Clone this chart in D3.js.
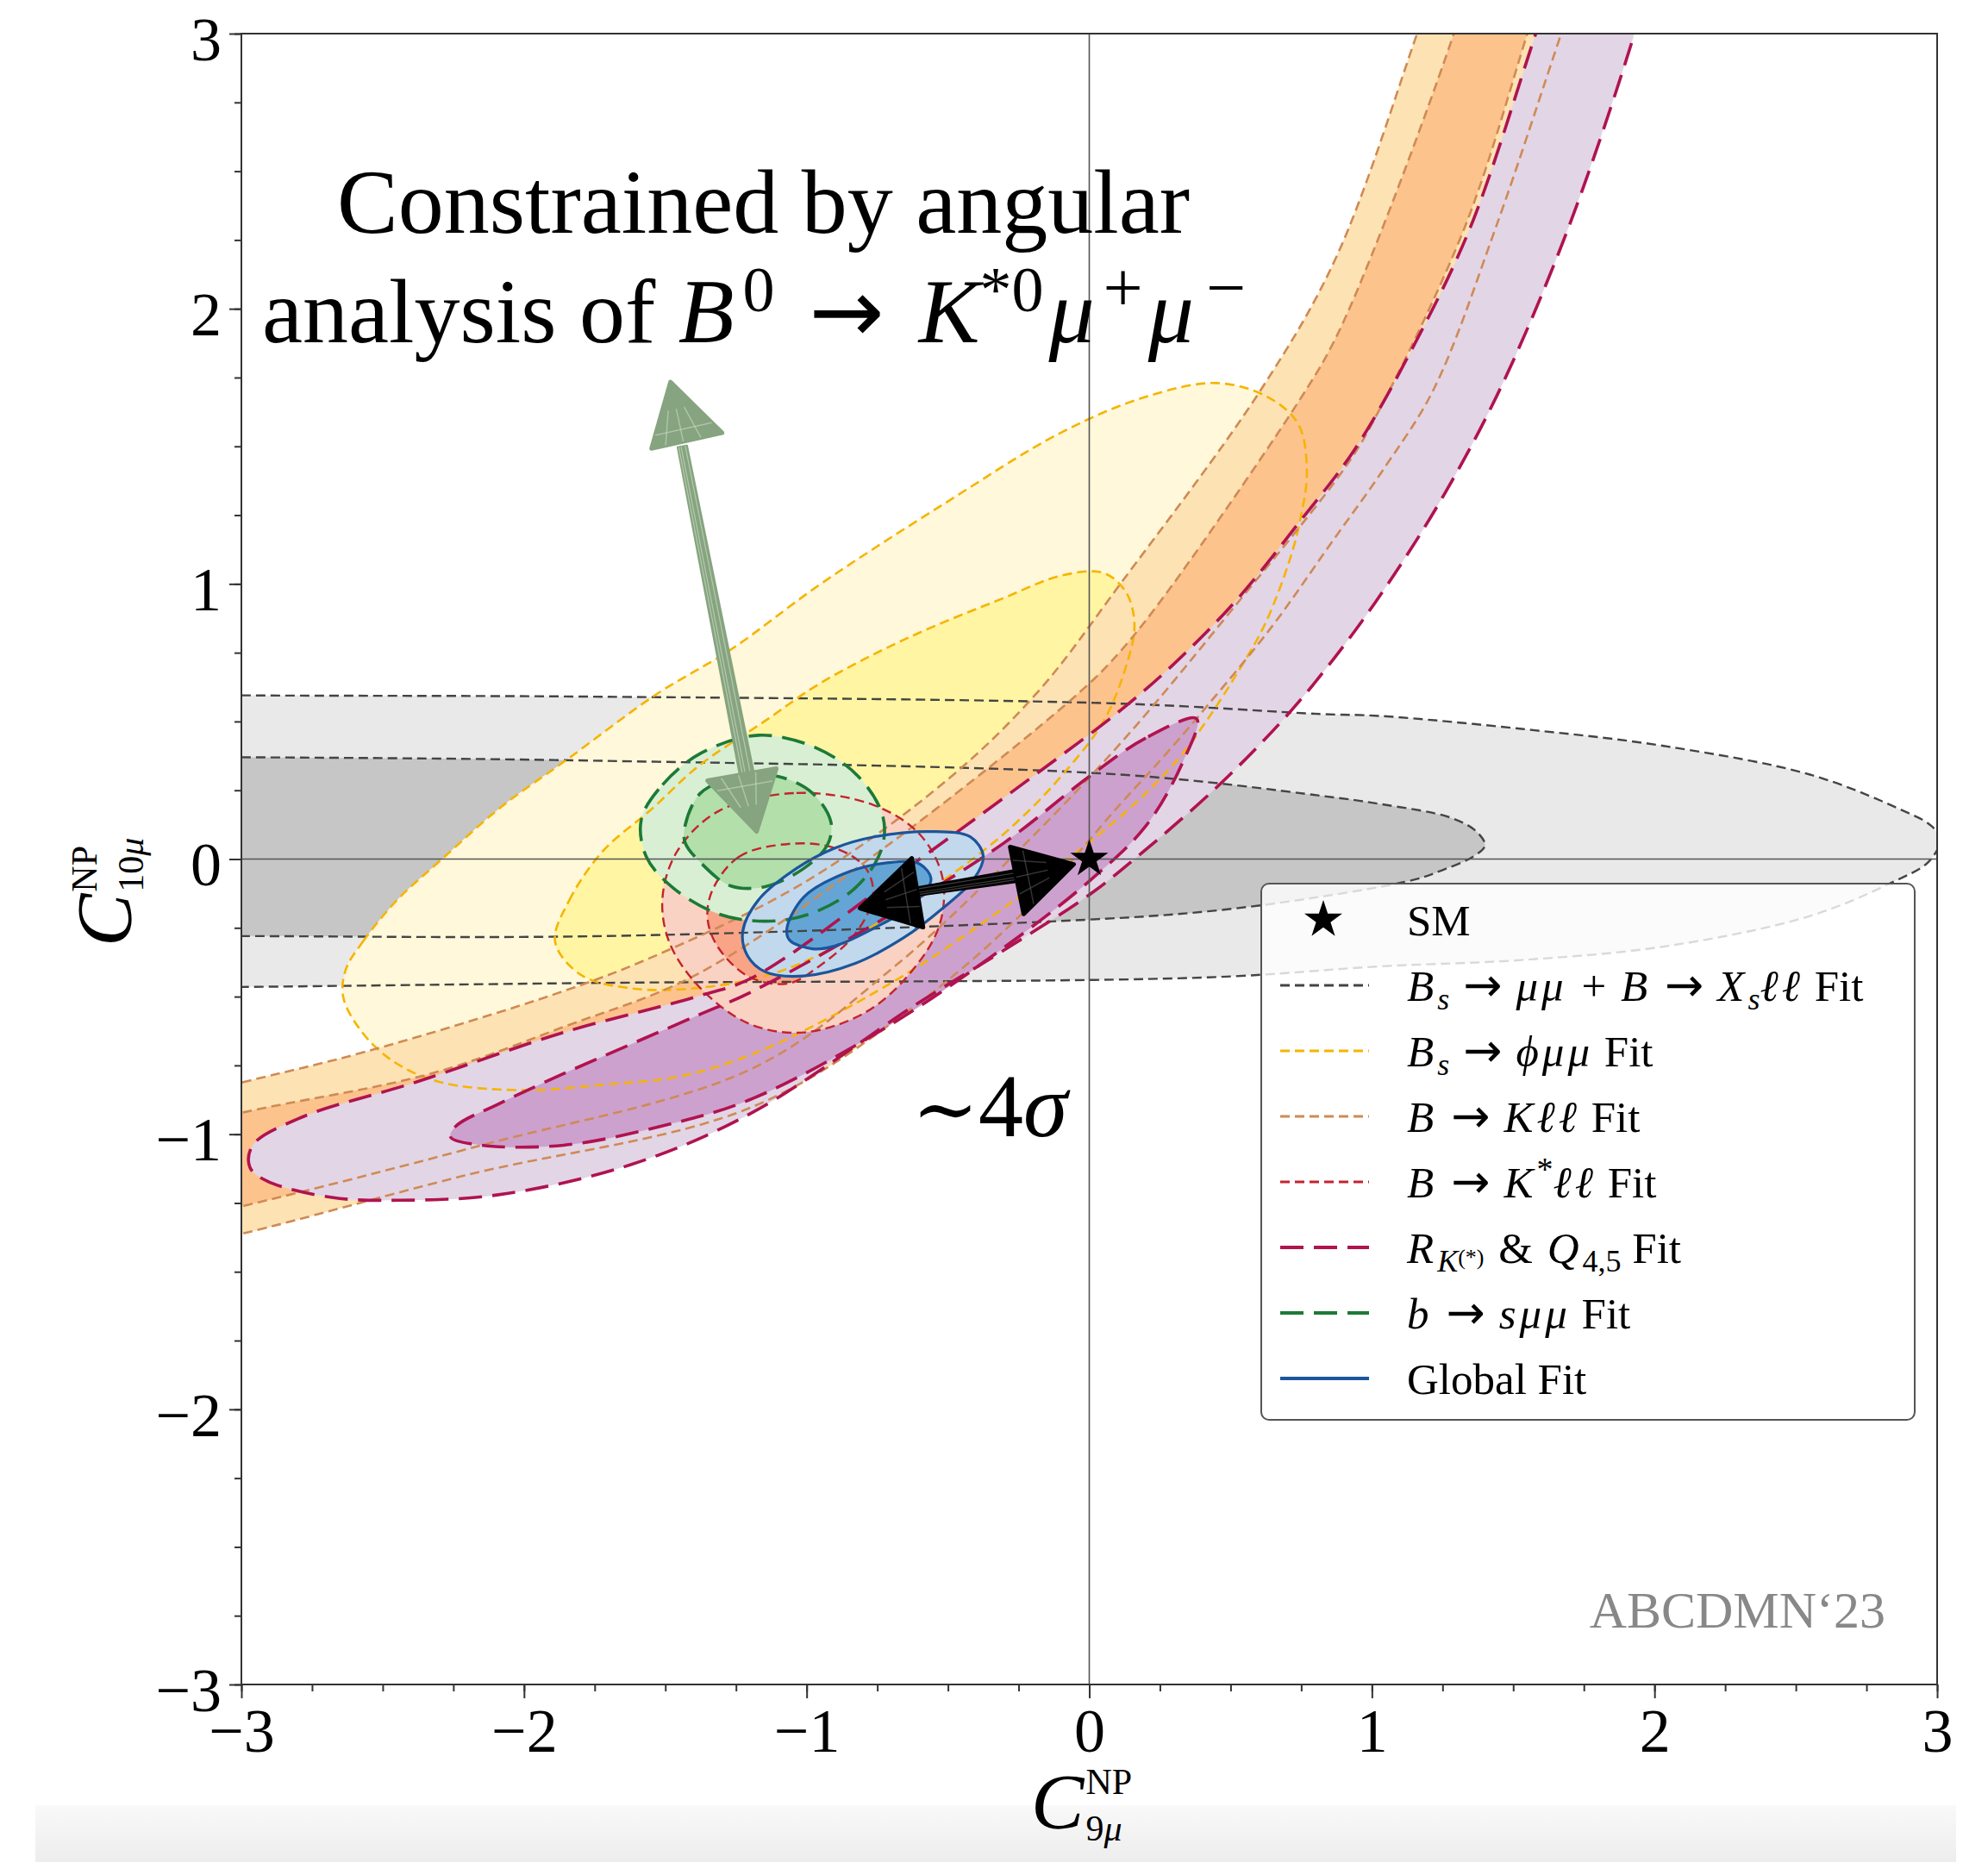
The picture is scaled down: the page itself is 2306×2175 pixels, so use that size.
<!DOCTYPE html>
<html>
<head>
<meta charset="utf-8">
<script src="https://cdn.jsdelivr.net/npm/d3@7"></script>
<style>
  body { margin: 0; background: #fff; }
  svg text { font-family: "Liberation Serif", "DejaVu Serif", serif; }
</style>
</head>
<body>
<svg id="chart" width="2306" height="2175"></svg>
<script>
// tick values
const xTicks = [-3, -2, -1, 0, 1, 2, 3]
const yTicks = [-3, -2, -1, 0, 1, 2, 3]
const minorTicks = d3.range(-3, 3.001, 0.25)

// contours, [C9, C10]
// Bs -> mumu + B -> Xs ll
const grayOuter = [[-3.5, 0.60], [-3.0, 0.595], [-1.72, 0.59], [0.11, 0.565], [0.82, 0.527], [1.03, 0.52], [1.53, 0.473], [2.04, 0.41], [2.55, 0.307], [2.86, 0.185], [2.98, 0.12], [3.01, 0.07], [2.97, -0.01], [2.84, -0.085], [2.55, -0.207], [2.04, -0.317], [1.53, -0.367], [1.03, -0.39], [0.42, -0.43], [-1.72, -0.45], [-3.0, -0.465], [-3.5, -0.47]]
const grayInner = [[-3.5, 0.37], [-3.0, 0.37], [-1.72, 0.357], [0.11, 0.307], [0.82, 0.23], [1.03, 0.20], [1.28, 0.15], [1.37, 0.10], [1.40, 0.05], [1.36, 0.01], [1.25, -0.04], [1.15, -0.075], [0.8, -0.14], [0.42, -0.19], [0.0, -0.22], [-1.72, -0.28], [-3.0, -0.28], [-3.5, -0.28]]
// Bs -> phi mumu
const yellowOuter = [[-2.63, -0.40], [-2.57, -0.30], [-2.45, -0.15], [-2.29, 0.0], [-2.08, 0.19], [-1.85, 0.36], [-1.53, 0.60], [-1.27, 0.76], [-0.95, 1.0], [-0.5, 1.30], [-0.1, 1.55], [0.2, 1.68], [0.45, 1.73], [0.63, 1.68], [0.74, 1.58], [0.77, 1.41], [0.75, 1.25], [0.71, 1.09], [0.62, 0.85], [0.52, 0.67], [0.42, 0.51], [0.32, 0.37], [0.16, 0.20], [-0.1, -0.02], [-0.36, -0.22], [-0.7, -0.45], [-1.17, -0.70], [-1.45, -0.79], [-1.72, -0.82], [-2.0, -0.84], [-2.3, -0.81], [-2.47, -0.73], [-2.58, -0.62], [-2.64, -0.50]]
const yellowInner = [[-1.89, -0.30], [-1.84, -0.15], [-1.72, 0.03], [-1.55, 0.18], [-1.38, 0.34], [-1.15, 0.50], [-0.95, 0.64], [-0.65, 0.80], [-0.3, 0.95], [-0.1, 1.03], [0.05, 1.04], [0.13, 0.97], [0.16, 0.85], [0.13, 0.70], [0.05, 0.50], [-0.1, 0.30], [-0.25, 0.14], [-0.40, 0.01], [-0.65, -0.17], [-0.9, -0.32], [-1.13, -0.42], [-1.40, -0.47], [-1.62, -0.47], [-1.80, -0.42]]
// B -> K ll, band edges
const orange2Upper = [[-3.6, -0.97], [-3.3, -0.89], [-2.99, -0.81], [-2.56, -0.70], [-1.86, -0.48], [-1.51, -0.34], [-1.0, -0.08], [-0.5, 0.29], [-0.18, 0.61], [0.11, 1.0], [0.61, 1.71], [0.875, 2.19], [1.16, 3.0], [1.26, 3.3], [1.35, 3.6]]
const orange2Lower = [[-3.6, -1.50], [-3.3, -1.43], [-2.99, -1.36], [-2.21, -1.15], [-1.19, -0.90], [-0.6, -0.52], [-0.2, -0.16], [0.11, 0.2], [0.27, 0.38], [0.42, 0.56], [0.65, 0.85], [0.85, 1.14], [1.05, 1.43], [1.22, 1.71], [1.44, 2.30], [1.67, 3.0], [1.77, 3.3], [1.86, 3.6]]
const orange1Upper = [[-3.6, -1.07], [-3.3, -1.0], [-2.99, -0.92], [-2.33, -0.78], [-1.86, -0.61], [-1.39, -0.42], [-0.7, 0.06], [-0.03, 0.61], [0.11, 0.755], [0.29, 0.99], [0.77, 1.71], [0.875, 1.90], [1.04, 2.30], [1.29, 3.0], [1.38, 3.3], [1.47, 3.6]]
const orange1Lower = [[-3.6, -1.40], [-3.3, -1.33], [-2.99, -1.26], [-2.15, -1.04], [-1.19, -0.76], [-0.7, -0.40], [-0.3, -0.02], [0.11, 0.42], [0.5, 0.90], [0.91, 1.43], [1.02, 1.62], [1.33, 2.30], [1.55, 3.0], [1.64, 3.3], [1.73, 3.6]]
// R_K(*) & Q4,5
const purpleOuter = [[1.78, 3.6], [1.68, 3.3], [1.58, 3.0], [1.35, 2.30], [1.14, 1.85], [0.94, 1.49], [0.74, 1.22], [0.52, 0.94], [0.29, 0.70], [0.11, 0.54], [-0.2, 0.30], [-0.6, 0.0], [-1.19, -0.43], [-1.39, -0.50], [-1.86, -0.63], [-2.38, -0.81], [-2.79, -0.94], [-2.96, -1.04], [-2.97, -1.12], [-2.91, -1.17], [-2.68, -1.23], [-2.44, -1.24], [-2.09, -1.22], [-1.62, -1.11], [-1.19, -0.92], [-0.6, -0.52], [-0.3, -0.33], [0.0, -0.13], [0.16, 0.0], [0.45, 0.26], [0.68, 0.50], [0.84, 0.695], [1.01, 0.93], [1.23, 1.28], [1.445, 1.69], [1.69, 2.28], [1.92, 2.97], [2.01, 3.3], [2.1, 3.6]]
const purpleInner = [[0.38, 0.51], [0.2, 0.44], [0.0, 0.3], [-0.3, 0.06], [-0.7, -0.2], [-1.19, -0.48], [-1.39, -0.57], [-1.86, -0.78], [-2.09, -0.89], [-2.24, -0.97], [-2.26, -1.01], [-2.15, -1.04], [-1.86, -1.04], [-1.51, -0.97], [-1.19, -0.87], [-0.7, -0.6], [-0.3, -0.32], [0.0, -0.08], [0.2, 0.12], [0.33, 0.35]]
// B -> K* ll
const redOuter = [[-1.31, 0.175], [-1.036, 0.24], [-0.765, 0.197], [-0.60, 0.09], [-0.52, -0.065], [-0.53, -0.24], [-0.63, -0.41], [-0.79, -0.556], [-1.01, -0.63], [-1.20, -0.60], [-1.375, -0.47], [-1.485, -0.305], [-1.51, -0.14], [-1.457, 0.03]]
const redInner = [[-1.335, -0.117], [-1.24, 0.008], [-1.064, 0.055], [-0.90, 0.04], [-0.79, -0.034], [-0.765, -0.138], [-0.83, -0.274], [-0.955, -0.389], [-1.064, -0.452], [-1.20, -0.43], [-1.31, -0.326], [-1.35, -0.222]]
// b -> s mumu
const greenOuter = [[-1.585, 0.144], [-1.51, 0.27], [-1.374, 0.385], [-1.17, 0.45], [-0.966, 0.404], [-0.817, 0.30], [-0.73, 0.154], [-0.737, 0.03], [-0.83, -0.107], [-0.99, -0.20], [-1.146, -0.226], [-1.31, -0.20], [-1.47, -0.107], [-1.567, 0.008]]
const greenInner = [[-1.43, 0.122], [-1.375, 0.24], [-1.24, 0.30], [-1.10, 0.30], [-0.98, 0.24], [-0.914, 0.134], [-0.927, 0.05], [-1.01, -0.034], [-1.146, -0.10], [-1.27, -0.097], [-1.375, -0.013], [-1.43, 0.06]]
// global fit
const blueOuter = [[-1.226, -0.263], [-1.17, -0.148], [-1.036, -0.034], [-0.90, 0.04], [-0.765, 0.08], [-0.56, 0.10], [-0.42, 0.08], [-0.375, 0.01], [-0.41, -0.075], [-0.52, -0.18], [-0.655, -0.285], [-0.83, -0.38], [-1.01, -0.425], [-1.146, -0.41], [-1.21, -0.35]]
const blueInner = [[-1.07, -0.253], [-1.01, -0.138], [-0.87, -0.054], [-0.71, -0.013], [-0.60, -0.018], [-0.56, -0.075], [-0.63, -0.17], [-0.765, -0.253], [-0.90, -0.316], [-0.98, -0.326], [-1.06, -0.295]]

const smPoint = [0, 0]

// hand drawn arrows, [C9, C10]
const greenArrowTop = [[-1.482, 1.734], [-1.549, 1.492], [-1.299, 1.549]]
const greenArrowBottom = [[-1.177, 0.10], [-1.351, 0.285], [-1.107, 0.329]]
const greenArrowShaft = [[-1.44, 1.50], [-1.21, 0.30]]
const blackArrowLeft = [[-0.811, -0.179], [-0.628, 0.003], [-0.588, -0.248]]
const blackArrowRight = [[-0.055, -0.019], [-0.28, 0.044], [-0.232, -0.20]]
const blackArrowShaft = [[-0.62, -0.12], [-0.25, -0.06]]

const legendRows = [
  [['SM', 'r']],
  [['B', 'i'], ['s', 'sub'], ['→', 'arr'], ['μμ', 'i'], [' + ', 'bin'], ['B', 'i'], ['→', 'arr'], ['X', 'i'], ['s', 'sub'], ['ℓℓ', 'i'], [' Fit', 'r']],
  [['B', 'i'], ['s', 'sub'], ['→', 'arr'], ['ϕμμ', 'i'], [' Fit', 'r']],
  [['B', 'i'], ['→', 'arr'], ['Kℓℓ', 'i'], [' Fit', 'r']],
  [['B', 'i'], ['→', 'arr'], ['K', 'i'], ['*', 'sup'], ['ℓℓ', 'i'], [' Fit', 'r']],
  [['R', 'i'], ['K', 'sub'], ['(*)', 'subsup'], [' & ', 'bin'], ['Q', 'i'], ['4,5', 'subr'], [' Fit', 'r']],
  [['b', 'i'], ['→', 'arr'], ['sμμ', 'i'], [' Fit', 'r']],
  [['Global Fit', 'r']]
]

const svg = d3.select('#chart')
const x = d3.scaleLinear().domain([-3, 3]).range([280, 2247])
const y = d3.scaleLinear().domain([-3, 3]).range([1954, 39])

const defs = svg.append('defs')
defs.append('clipPath').attr('id', 'plotClip')
  .append('rect').attr('x', 280).attr('y', 39).attr('width', 1967).attr('height', 1915)

var grad = defs.append('linearGradient').attr('id', 'strip').attr('x1', 0).attr('y1', 0).attr('x2', 0).attr('y2', 1)
grad.append('stop').attr('offset', '0%').attr('stop-color', '#f9f9f9')
grad.append('stop').attr('offset', '100%').attr('stop-color', '#ededed')

// grey strip at the bottom of the slide
svg.append('rect').attr('x', 41).attr('y', 2094).attr('width', 2228).attr('height', 66).attr('fill', 'url(#strip)')

const closedLine = d3.line().x(d => x(d[0])).y(d => y(d[1])).curve(d3.curveCatmullRomClosed.alpha(0.5))
const openLine = d3.line().x(d => x(d[0])).y(d => y(d[1])).curve(d3.curveCatmullRom.alpha(0.5))

function band(upper, lower) {
  return upper.concat(lower.slice().reverse())
}

const plot = svg.append('g').attr('clip-path', 'url(#plotClip)')

// filled regions, bottom to top
const fills = [
  [grayOuter, '#e9e9e9'], [grayInner, '#c6c6c6'],
  [yellowOuter, '#fff8da'], [yellowInner, '#fff5a3'],
  [band(orange2Upper, orange2Lower), '#fde3b3'], [band(orange1Upper, orange1Lower), '#fdc38d'],
  [purpleOuter, '#e2d5e6'], [purpleInner, '#cda1ce'],
  [redOuter, '#fad2c3'], [redInner, '#f9a487'],
  [greenOuter, '#d9efd4'], [greenInner, '#b2dfaa'],
  [blueOuter, '#c2d8ed'], [blueInner, '#64a5d5']
]
plot.selectAll('path.fill').data(fills).join('path')
  .attr('class', 'fill')
  .attr('d', d => closedLine(d[0]))
  .attr('fill', d => d[1])
  .attr('stroke', 'none')

// contour lines
const styles = {
  gray: { c: '#444444', w: 2.4, dash: '11,6' },
  yellow: { c: '#f6b400', w: 2.6, dash: '11,6' },
  orange: { c: '#cf8a55', w: 2.6, dash: '11,6' },
  red: { c: '#c3242c', w: 2.4, dash: '11,6' },
  purple: { c: '#b0134f', w: 3.6, dash: '27,12' },
  green: { c: '#1c7a36', w: 3.6, dash: '27,12' },
  blue: { c: '#1b559b', w: 3.2, dash: null }
}
const lines = [
  [grayOuter, 'gray', true], [grayInner, 'gray', true],
  [yellowOuter, 'yellow', true], [yellowInner, 'yellow', true],
  [orange2Upper, 'orange', false], [orange2Lower, 'orange', false],
  [orange1Upper, 'orange', false], [orange1Lower, 'orange', false],
  [redOuter, 'red', true], [redInner, 'red', true],
  [purpleOuter, 'purple', true], [purpleInner, 'purple', true],
  [greenOuter, 'green', true], [greenInner, 'green', true],
  [blueOuter, 'blue', true], [blueInner, 'blue', true]
]
plot.selectAll('path.line').data(lines).join('path')
  .attr('class', 'line')
  .attr('d', d => d[2] ? closedLine(d[0]) : openLine(d[0]))
  .attr('fill', 'none')
  .attr('stroke', d => styles[d[1]].c)
  .attr('stroke-width', d => styles[d[1]].w)
  .attr('stroke-dasharray', d => styles[d[1]].dash)

// zero lines
plot.append('line').attr('x1', x(0)).attr('x2', x(0)).attr('y1', y(-3)).attr('y2', y(3))
  .attr('stroke', '#555').attr('stroke-width', 1.6)
plot.append('line').attr('x1', x(-3)).attr('x2', x(3)).attr('y1', y(0)).attr('y2', y(0))
  .attr('stroke', '#555').attr('stroke-width', 1.6)

// hand drawn arrows: solid shape plus a few scribble strokes on top
function sketchArrow(g, head1, head2, shaft, color, light, width) {
  var px = p => [x(p[0]), y(p[1])]
  var a = px(shaft[0]), b = px(shaft[1])
  var dx = b[0] - a[0], dy = b[1] - a[1], len = Math.hypot(dx, dy)
  var nx = -dy / len, ny = dx / len
  g.append('polygon')
    .attr('points', [
      [a[0] + nx * width * 0.4, a[1] + ny * width * 0.4],
      [b[0] + nx * width * 0.6, b[1] + ny * width * 0.6],
      [b[0] - nx * width * 0.6, b[1] - ny * width * 0.6],
      [a[0] - nx * width * 0.4, a[1] - ny * width * 0.4]
    ].map(p => p.join(',')).join(' '))
    .attr('fill', color).attr('stroke', color).attr('stroke-width', 2).attr('stroke-linejoin', 'round')
  ;[-0.25, 0.1, 0.3].forEach(f => {
    g.append('line')
      .attr('x1', a[0] + nx * width * f).attr('y1', a[1] + ny * width * f)
      .attr('x2', b[0] + nx * width * f * 1.2).attr('y2', b[1] + ny * width * f * 1.2)
      .attr('stroke', light).attr('stroke-width', 1.2).attr('stroke-opacity', 0.7)
  })
  ;[head1, head2].forEach(h => {
    var p = h.map(px)
    g.append('polygon').attr('points', p.map(q => q.join(',')).join(' '))
      .attr('fill', color).attr('stroke', color).attr('stroke-width', 5).attr('stroke-linejoin', 'round')
    // scribble strokes from base towards the tip
    ;[0.2, 0.45, 0.7].forEach(t => {
      var s = [p[1][0] + (p[2][0] - p[1][0]) * t, p[1][1] + (p[2][1] - p[1][1]) * t]
      var e = [s[0] + (p[0][0] - s[0]) * 0.55, s[1] + (p[0][1] - s[1]) * 0.55]
      g.append('line').attr('x1', s[0]).attr('y1', s[1]).attr('x2', e[0]).attr('y2', e[1])
        .attr('stroke', light).attr('stroke-width', 1.5).attr('stroke-opacity', 0.6)
    })
    var m1 = [p[1][0] * 0.8 + p[0][0] * 0.2, p[1][1] * 0.8 + p[0][1] * 0.2]
    var m2 = [p[2][0] * 0.8 + p[0][0] * 0.2, p[2][1] * 0.8 + p[0][1] * 0.2]
    g.append('line').attr('x1', m1[0]).attr('y1', m1[1]).attr('x2', m2[0]).attr('y2', m2[1])
      .attr('stroke', light).attr('stroke-width', 1.5).attr('stroke-opacity', 0.6)
  })
}
sketchArrow(svg.append('g'), greenArrowTop, greenArrowBottom, greenArrowShaft, '#86a47f', '#c9d8c5', 14)
sketchArrow(svg.append('g'), blackArrowLeft, blackArrowRight, blackArrowShaft, '#000', '#555', 12)

// SM star
svg.append('path')
  .attr('transform', `translate(${x(smPoint[0])},${y(smPoint[1])})`)
  .attr('d', d3.symbol(d3.symbolStar).size(600)())
  .attr('fill', '#000')

// frame
svg.append('rect').attr('x', 280).attr('y', 39).attr('width', 1967).attr('height', 1915)
  .attr('fill', 'none').attr('stroke', '#333').attr('stroke-width', 2)

// axes
const xAxis = svg.append('g').attr('transform', `translate(0,${y(-3)})`)
  .call(d3.axisBottom(x).tickValues(xTicks).tickSize(16).tickPadding(11).tickFormat(d3.format('d')))
const xMinor = svg.append('g').attr('transform', `translate(0,${y(-3)})`)
  .call(d3.axisBottom(x).tickValues(minorTicks).tickSize(8).tickFormat(''))
const yAxis = svg.append('g').attr('transform', `translate(${x(-3)},0)`)
  .call(d3.axisLeft(y).tickValues(yTicks).tickSize(14).tickPadding(9).tickFormat(d3.format('d')))
const yMinor = svg.append('g').attr('transform', `translate(${x(-3)},0)`)
  .call(d3.axisLeft(y).tickValues(minorTicks).tickSize(8).tickFormat(''))
;[xAxis, xMinor, yAxis, yMinor].forEach(a => {
  a.select('.domain').remove()
  a.selectAll('line').attr('stroke', '#333').attr('stroke-width', 2)
  a.selectAll('text').attr('font-size', 72).attr('fill', '#000')
    .style('font-family', '"Liberation Serif", serif')
})
yAxis.selectAll('text').attr('dy', '0.42em')

// axis titles: C with stacked super- and subscript
function mathLabel(g, subText, supText) {
  var c = g.append('text').attr('x', 0).attr('y', 0).attr('font-size', 92)
    .attr('font-style', 'italic').text('C')
  var w = c.node().getComputedTextLength() + 2
  g.append('text').attr('x', w).attr('y', -40).attr('font-size', 42).text(supText)
  var sub = g.append('text').attr('x', w).attr('y', 14).attr('font-size', 42)
  sub.append('tspan').text(subText[0])
  sub.append('tspan').attr('font-style', 'italic').text(subText[1])
}
mathLabel(svg.append('g').attr('transform', 'translate(1196,2121)'), ['9', 'μ'], 'NP')
mathLabel(svg.append('g').attr('transform', 'translate(152,1098) rotate(-90)'), ['10', 'μ'], 'NP')

// annotations
svg.append('text').attr('x', 391).attr('y', 270).attr('font-size', 106)
  .style('font-family', '"Liberation Serif", serif').text('Constrained by angular')
var l2 = svg.append('text').attr('x', 304).attr('y', 397).attr('font-size', 106)
  .style('font-family', '"Liberation Serif", serif')
l2.append('tspan').text('analysis of ')
l2.append('tspan').attr('font-style', 'italic').text('B')
l2.append('tspan').attr('font-size', 74).attr('dx', 10).attr('dy', -36).text('0')
l2.append('tspan').attr('dy', 36).attr('dx', 40).style('font-family', '"DejaVu Sans", sans-serif')
  .attr('font-size', 104).text('→')
l2.append('tspan').attr('font-style', 'italic').attr('dx', 40).text('K')
l2.append('tspan').attr('font-size', 74).attr('dy', -36).text('*0')
l2.append('tspan').attr('font-style', 'italic').attr('dx', 6).attr('dy', 36).text('μ')
l2.append('tspan').attr('font-size', 82).attr('dx', 10).attr('dy', -36).text('+')
l2.append('tspan').attr('font-style', 'italic').attr('dx', 6).attr('dy', 36).text('μ')
l2.append('tspan').attr('font-size', 82).attr('dx', 14).attr('dy', -36).text('−')

var sig = svg.append('text').attr('x', 1058).attr('y', 1318).attr('font-size', 104)
sig.append('tspan').attr('font-size', 92).text('∼')
sig.append('tspan').text('4')
sig.append('tspan').attr('font-style', 'italic').text('σ')

svg.append('text').attr('x', 2187).attr('y', 1888).attr('font-size', 60)
  .attr('text-anchor', 'end').attr('fill', '#888').text('ABCDMN‘23')

// legend
const legend = svg.append('g')
legend.append('rect').attr('x', 1463).attr('y', 1025).attr('width', 758).attr('height', 622)
  .attr('rx', 9).attr('fill', '#fff').attr('fill-opacity', 0.8)
  .attr('stroke', '#555').attr('stroke-width', 2)
const legendKeys = ['star', 'gray', 'yellow', 'orange', 'red', 'purple', 'green', 'blue']
legendRows.forEach((row, i) => {
  var cy = 1067 + i * 76
  var key = legendKeys[i]
  if (key === 'star') {
    legend.append('path').attr('transform', `translate(1535,${cy})`)
      .attr('d', d3.symbol(d3.symbolStar).size(600)()).attr('fill', '#000')
  } else {
    var s = styles[key]
    legend.append('line').attr('x1', 1485).attr('x2', 1588).attr('y1', cy).attr('y2', cy)
      .attr('stroke', s.c).attr('stroke-width', s.w + 0.6).attr('stroke-dasharray', s.dash)
  }
  var t = legend.append('text').attr('x', 1632).attr('y', cy + 18).attr('font-size', 51)
  var shift = 0
  var padNext = 0
  row.forEach(seg => {
    var ts = t.append('tspan').text(seg[0])
    var target = 0
    var dx = padNext
    padNext = 0
    if (seg[1] === 'i') ts.attr('font-style', 'italic').attr('letter-spacing', 4)
    if (seg[1] === 'arr') {
      ts.style('font-family', '"DejaVu Sans", sans-serif').attr('font-size', 54)
      dx += 16
      padNext = 16
    }
    if (seg[1] === 'bin') { dx += 4; padNext = 4 }
    if (seg[1] === 'sub' || seg[1] === 'subr') { target = 10; ts.attr('font-size', 36) }
    if (seg[1] === 'sub') ts.attr('font-style', 'italic')
    if (seg[1] === 'sup') { target = -20; ts.attr('font-size', 38) }
    if (seg[1] === 'subsup') { target = 2; ts.attr('font-size', 26) }
    ts.attr('dy', target - shift)
    if (dx) ts.attr('dx', dx)
    shift = target
  })
})
</script>
</body>
</html>
